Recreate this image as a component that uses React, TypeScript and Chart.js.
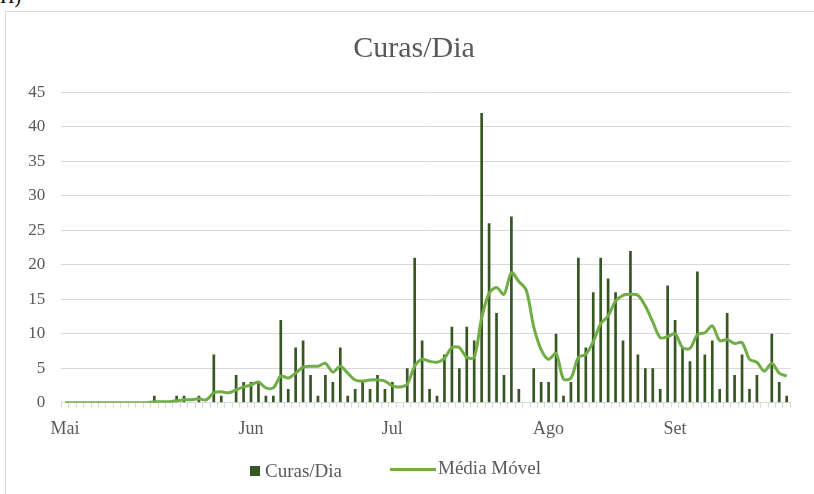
import React, { useEffect, useRef } from 'react';
import { Chart, registerables } from 'chart.js';

Chart.register(...registerables);

// Daily cures (one category per recorded day)
const curasDia: number[] = [
  0, 0, 0, 0, 0, 0, 0, 0, 0, 0,
  0, 0, 1, 0, 0, 1, 1, 0, 1, 0,
  7, 1, 0, 4, 3, 3, 3, 1, 1, 12,
  2, 8, 9, 4, 1, 4, 3, 8, 1, 2,
  3, 2, 4, 2, 3, 0, 5, 21, 9, 2,
  1, 7, 11, 5, 11, 9, 42, 26, 13, 4,
  27, 2, 0, 5, 3, 3, 10, 1, 3, 21,
  8, 16, 21, 18, 16, 9, 22, 7, 5, 5,
  2, 17, 12, 8, 6, 19, 7, 9, 2, 13,
  4, 7, 2, 4, 0, 10, 3, 1,
];

// Moving average as drawn in the reference
const mediaMovel: number[] = [
  0, 0, 0, 0, 0, 0, 0, 0, 0, 0,
  0, 0, 0.14, 0.14, 0.14, 0.29, 0.43, 0.43, 0.57, 0.43,
  1.43, 1.57, 1.43, 1.86, 2.29, 2.57, 3.0, 2.14, 2.14, 3.86,
  3.57, 4.29, 5.14, 5.29, 5.29, 5.71, 4.43, 5.29, 4.29, 3.29,
  3.14, 3.29, 3.29, 3.14, 2.43, 2.29, 2.71, 5.29, 6.29, 6.0,
  5.86, 6.43, 8.0, 8.0, 6.57, 6.57, 12.29, 15.86, 16.71, 15.71,
  18.86, 17.57, 16.29, 11.0, 7.71, 6.29, 7.14, 3.43, 3.57, 6.57,
  7.0, 8.86, 11.43, 12.57, 14.71, 15.57, 15.71, 15.57, 14.0, 11.71,
  9.43, 9.57, 10.0, 8.0, 7.86, 9.86, 10.14, 11.14, 9.0, 9.14,
  8.57, 8.71, 6.29, 5.86, 4.57, 5.71, 4.29, 3.86,
];

const monthLabels: string[] = ['Mai', 'Jun', 'Jul', 'Ago', 'Set'];
const monthStartIndex: number[] = [0, 25, 44, 65, 82];

const yMin = 0;
const yMax = 45;
const yStep = 5;

const categories: string[] = curasDia.map((_, i) => {
  const m = monthStartIndex.indexOf(i);
  return m >= 0 ? monthLabels[m] : '';
});

const FONT = "'Liberation Serif', 'Times New Roman', serif";
const TEXT = '#595959';
const BAR = '#375623';
const LINE = '#70ad47';
const GRID = '#d9d9d9';

export default function App() {
  const ref = useRef<HTMLCanvasElement | null>(null);

  useEffect(() => {
    if (!ref.current) return;
    const chart = new Chart(ref.current, {
      type: 'bar',
      data: {
        labels: categories,
        datasets: [
          {
            type: 'line',
            label: 'Média Móvel',
            data: mediaMovel,
            borderColor: LINE,
            backgroundColor: LINE,
            borderWidth: 3,
            pointRadius: 0,
            tension: 0.3,
            order: 0,
          },
          {
            type: 'bar',
            label: 'Curas/Dia',
            data: curasDia,
            backgroundColor: BAR,
            borderWidth: 0,
            barPercentage: 0.36,
            categoryPercentage: 1,
            order: 1,
          },
        ],
      },
      options: {
        animation: false,
        responsive: false,
        maintainAspectRatio: false,
        layout: { padding: { left: 0, right: 23.6, top: 92.2, bottom: 51.3 } },
        plugins: {
          legend: { display: false },
          title: { display: false },
          tooltip: { enabled: false },
        },
        scales: {
          x: {
            type: 'category',
            offset: true,
            grid: {
              offset: true,
              drawOnChartArea: false,
              drawTicks: true,
              tickLength: 5,
              color: GRID,
            },
            border: { display: true, color: GRID, width: 1 },
            ticks: {
              autoSkip: false,
              maxRotation: 0,
              minRotation: 0,
              padding: 11,
              color: TEXT,
              font: { family: FONT, size: 18 },
              callback: (_v: any, i: number) => categories[i],
            },
            afterFit: (scale: any) => {
              scale.height = 40;
            },
          },
          y: {
            min: yMin,
            max: yMax,
            grid: { color: GRID, drawTicks: false, lineWidth: 1 },
            border: { display: false },
            ticks: {
              stepSize: yStep,
              padding: 16,
              color: TEXT,
              font: { family: FONT, size: 17 },
            },
            afterFit: (scale: any) => {
              scale.width = 61.3;
            },
          },
        },
      },
    });
    return () => chart.destroy();
  }, []);

  return (
    <div
      style={{
        position: 'absolute',
        left: 0,
        top: 0,
        width: 814,
        height: 494,
        overflow: 'hidden',
        background: '#ffffff',
        fontFamily: FONT,
      }}
    >
      <div
        style={{
          position: 'absolute',
          left: 0,
          top: -14,
          fontSize: 20,
          color: '#000',
          lineHeight: '20px',
        }}
      >
        H)
      </div>
      <div
        style={{
          position: 'absolute',
          left: 5,
          top: 11,
          width: 820,
          height: 500,
          border: `1px solid ${GRID}`,
          boxSizing: 'border-box',
        }}
      />
      <canvas
        ref={ref}
        width={814}
        height={494}
        style={{ position: 'absolute', left: 0, top: 0, width: 814, height: 494 }}
      />
      <div
        style={{
          position: 'absolute',
          left: 0,
          width: 828,
          top: 29,
          textAlign: 'center',
          fontSize: 30,
          color: TEXT,
          lineHeight: '36px',
        }}
      >
        Curas/Dia
      </div>
      <div
        style={{
          position: 'absolute',
          left: 250,
          top: 460,
          display: 'flex',
          alignItems: 'center',
          fontSize: 19,
          color: TEXT,
          lineHeight: '22px',
        }}
      >
        <span style={{ display: 'inline-block', width: 10, height: 10, background: BAR, marginRight: 5 }} />
        <span>Curas/Dia</span>
        <span
          style={{
            display: 'inline-block',
            width: 46,
            height: 3,
            background: LINE,
            marginLeft: 48,
            marginRight: 2,
            position: 'relative',
            top: -2,
          }}
        />
        <span style={{ position: 'relative', top: -3 }}>Média Móvel</span>
      </div>
    </div>
  );
}
